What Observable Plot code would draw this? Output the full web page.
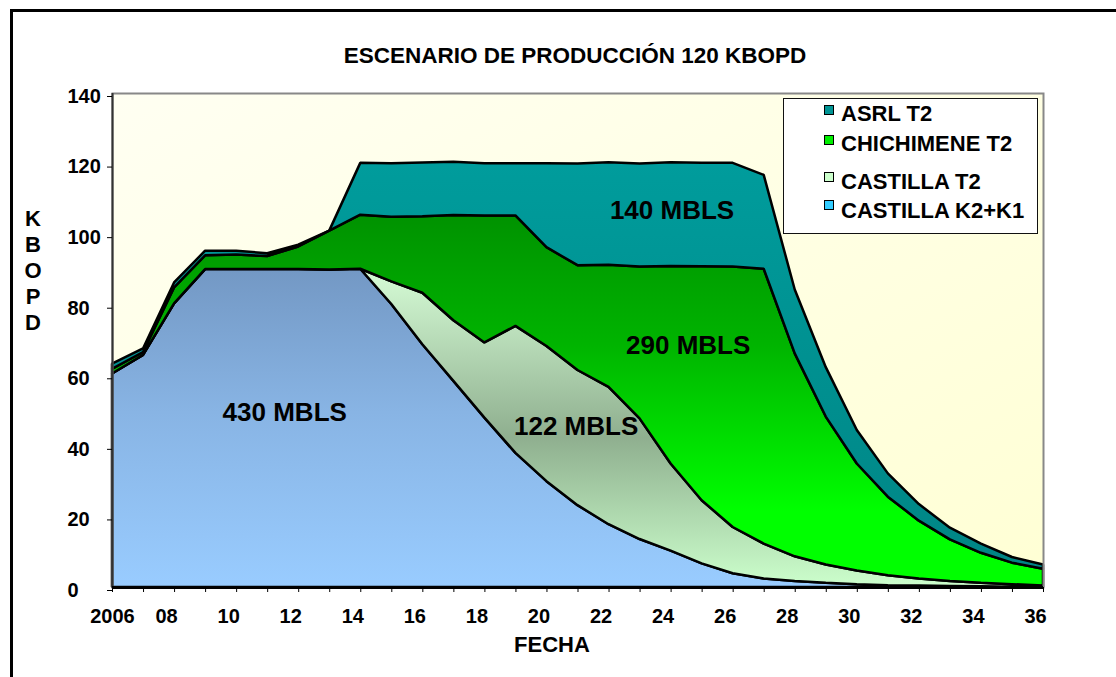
<!DOCTYPE html>
<html>
<head>
<meta charset="utf-8">
<script src="https://cdn.jsdelivr.net/npm/d3@7"></script>
<script src="https://cdn.jsdelivr.net/npm/@observablehq/plot@0.6"></script>
<style>
  html, body { margin: 0; padding: 0; background: #fff; width: 1116px; height: 677px; overflow: hidden; }
  #wrap { position: relative; width: 1116px; height: 677px; font-family: Arial, "Liberation Sans", sans-serif; font-weight: bold; color: #000; }
  #wrap svg { position: absolute; left: 0; top: 0; }
  #frame { position: absolute; left: 10px; top: 9px; width: 1300px; height: 900px; border: 3px solid #000; box-sizing: border-box; pointer-events: none; }
  #title { position: absolute; left: 0; width: 1150px; top: 45px; text-align: center; font-size: 22.5px; line-height: 22px; white-space: nowrap; }
  #ylabel { position: absolute; left: 11px; width: 44px; top: 206px; text-align: center; font-size: 22px; line-height: 26px; }
  #xlabel { position: absolute; left: 452px; width: 200px; top: 634px; text-align: center; font-size: 22px; line-height: 22px; }
  #legend { position: absolute; left: 783px; top: 98px; width: 255px; height: 136px; border: 1px solid #111; background: #fff; box-sizing: border-box; }
  .li { position: absolute; left: 841px; font-size: 22px; line-height: 22px; white-space: nowrap; }
  .sw { position: absolute; left: 824px; width: 10px; height: 10px; border: 1.5px solid #000; box-sizing: border-box; }
</style>
</head>
<body>
<div id="wrap"></div>
<script>
// ---- data ----
const years = [2006, 2007, 2008, 2009, 2010, 2011, 2012, 2013, 2014, 2015, 2016, 2017, 2018, 2019, 2020,
               2021, 2022, 2023, 2024, 2025, 2026, 2027, 2028, 2029, 2030, 2031, 2032, 2033, 2034, 2035, 2036];
const seriesNames = ["CASTILLA K2+K1", "CASTILLA T2", "CHICHIMENE T2", "ASRL T2"];
const castillaK2K1 = [60.5, 65.8, 80.4, 90.1, 90.1, 90.1, 90.1, 90.0, 90.2, 80.2, 68.8, 58.4, 48.0, 38.0, 30.0,
                      23.2, 17.8, 13.6, 10.3, 6.7, 3.9, 2.4, 1.7, 1.2, 0.8, 0.5, 0.4, 0.3, 0.2, 0.1, 0.1];
const castillaT2   = [0, 0, 0, 0, 0, 0, 0, 0, 0, 6.4, 14.6, 17.2, 21.3, 36.0, 38.3,
                      38.3, 38.9, 34.2, 24.7, 17.9, 13.1, 9.9, 7.0, 5.2, 3.9, 2.8, 2.0, 1.4, 1.0, 0.7, 0.3];
const chichimeneT2 = [1.3, 0.8, 4.5, 3.9, 4.1, 3.7, 6.4, 11.0, 15.3, 18.3, 21.7, 29.8, 36.0, 31.3, 28.0,
                      29.7, 34.6, 43.0, 56.0, 66.3, 73.8, 77.9, 57.5, 41.9, 30.3, 22.3, 16.4, 11.8, 8.5, 6.1, 4.8];
const asrlT2       = [1.5, 1.0, 1.4, 1.3, 1.1, 0.8, 0.5, 0, 14.7, 15.2, 15.2, 15.1, 14.8, 14.8, 23.8,
                      28.8, 29.1, 29.2, 29.4, 29.3, 29.4, 26.6, 18.1, 14.0, 9.5, 6.6, 4.7, 3.3, 2.6, 1.6, 1.2];
const yTicks = [0, 20, 40, 60, 80, 100, 120, 140];
const xLabelYears = [2008, 2010, 2012, 2014, 2016, 2018, 2020, 2022, 2024, 2026, 2028, 2030, 2032, 2034, 2036];
const areaLabels = ["430 MBLS", "122 MBLS", "290 MBLS", "140 MBLS"];
const areaLabelYear = [2011.55, 2020.94, 2024.55, 2024.03];
const areaLabelValue = [49.6, 45.6, 68.4, 106.9];
const legendOrder = ["ASRL T2", "CHICHIMENE T2", "CASTILLA T2", "CASTILLA K2+K1"];
const legendColors = ["#009494", "#00EE00", "#CCFFCC", "#33CCFF"];

// ---- build table for the stack ----
const seriesValues = [castillaK2K1, castillaT2, chichimeneT2, asrlT2];
const rows = [];
seriesNames.forEach((name, s) => years.forEach((yr, i) => rows.push({series: name, year: yr, value: seriesValues[s][i]})));
const labelRows = areaLabels.map((t, i) => ({text: t, year: areaLabelYear[i], value: areaLabelValue[i]}));

const fills = ["url(#gBlue)", "url(#gT2)", "url(#gCh)", "url(#gAsrl)"];

const svg = Plot.plot({
  width: 1116,
  height: 677,
  marginLeft: 112,
  marginRight: 73,
  marginTop: 93,
  marginBottom: 90,
  style: {fontFamily: "Arial, 'Liberation Sans', sans-serif", fontSize: "20px", fontWeight: "bold", background: "transparent", overflow: "visible", color: "#000"},
  x: {domain: [2006, 2036]},
  y: {domain: [0, 140]},
  color: {type: "ordinal", domain: seriesNames, range: fills},
  marks: [
    Plot.frame({fill: "url(#bg)", stroke: null}),
    Plot.areaY(rows, {x: "year", y: "value", z: "series", fill: "series", stroke: "#000", strokeWidth: 2.5, strokeLinejoin: "miter"}),
    Plot.frame({stroke: "#888", strokeWidth: 2, fill: "none"}),
    Plot.ruleX([2006], {stroke: "#333", strokeWidth: 2}),
    Plot.ruleY([0], {stroke: "#000", strokeWidth: 3}),
    Plot.axisY({ticks: yTicks, tickSize: 5, tickPadding: 40, textAnchor: "start", dy: 3, fontSize: 20, fontWeight: "bold", label: null, stroke: "#000"}),
    Plot.axisX({ticks: years, tickSize: 5, tickFormat: () => "", label: null, stroke: "#000"}),
    Plot.axisX({ticks: [2006], tickSize: 0, tickPadding: 21, tickFormat: d => String(d), fontSize: 20, fontWeight: "bold", label: null}),
    Plot.axisX({ticks: xLabelYears, tickSize: 0, tickPadding: 21, dx: -8, tickFormat: d => String(d % 100).padStart(2, "0"), fontSize: 20, fontWeight: "bold", label: null}),
    Plot.text(labelRows, {x: "year", y: "value", text: "text", fontSize: 26, fontWeight: "bold", fill: "#000"})
  ]
});

// gradient definitions
const defs = d3.select(svg).insert("defs", ":first-child");
function grad(id, stops, x2 = 0, y2 = 1) {
  const g = defs.append("linearGradient").attr("id", id).attr("x1", 0).attr("y1", 0).attr("x2", x2).attr("y2", y2);
  stops.forEach(([o, c]) => g.append("stop").attr("offset", o).attr("stop-color", c));
}
grad("bg", [[0, "#FFFFF2"], [1, "#FFFFD4"]], 1, 1);
grad("gBlue", [[0, "#7398C4"], [0.45, "#88B4E4"], [1, "#99CCFF"]]);
grad("gT2", [[0, "#D6FCD6"], [0.53, "#8FAF8F"], [1, "#CCFFCC"]]);
grad("gCh", [[0, "#009200"], [0.35, "#00B400"], [0.8, "#00FF00"], [1, "#00FF00"]]);
grad("gAsrl", [[0, "#009C9C"], [1, "#008585"]]);

const wrap = document.getElementById("wrap");
wrap.appendChild(svg);

function addDiv(id, cls, html, style) {
  const d = document.createElement("div");
  if (id) d.id = id;
  if (cls) d.className = cls;
  d.innerHTML = html;
  if (style) Object.assign(d.style, style);
  wrap.appendChild(d);
  return d;
}
addDiv("frame", null, "");
addDiv("title", null, "ESCENARIO DE PRODUCCIÓN 120 KBOPD");
addDiv("ylabel", null, "K<br>B<br>O<br>P<br>D");
addDiv("xlabel", null, "FECHA");
addDiv("legend", null, "");
const textTops = [103.1, 133.1, 171.4, 199.7];
const swTops = [105, 135, 172, 200];
legendOrder.forEach((name, i) => {
  addDiv(null, "sw", "", {top: swTops[i] + "px", background: legendColors[i]});
  addDiv(null, "li", name, {top: textTops[i] + "px"});
});
</script>
</body>
</html>
